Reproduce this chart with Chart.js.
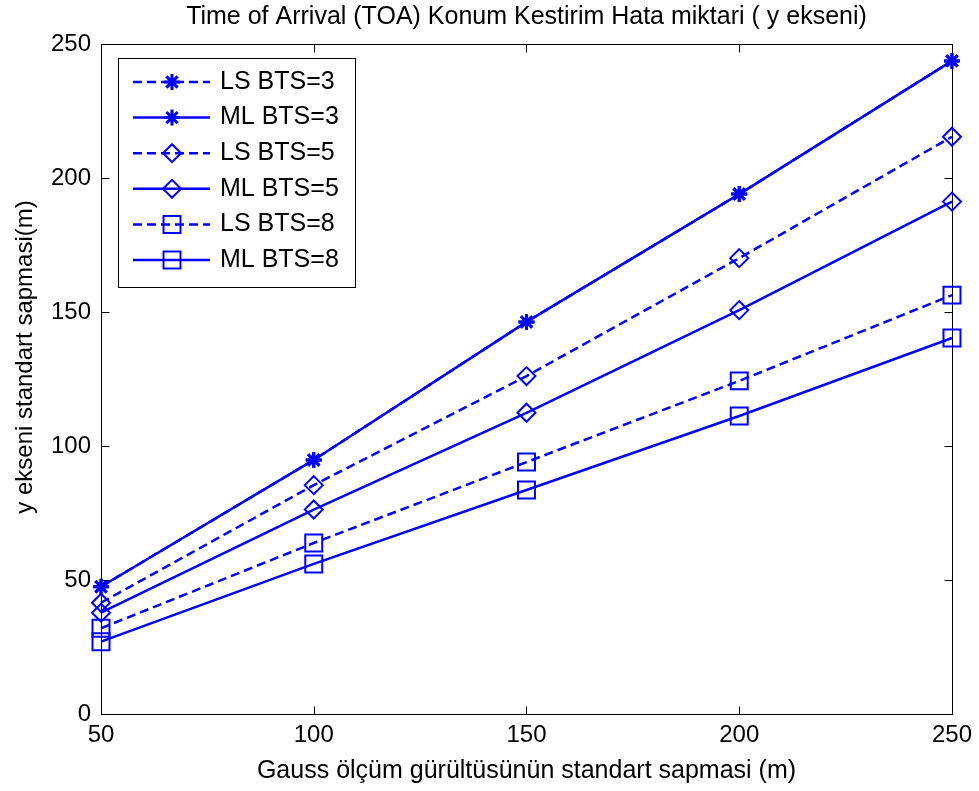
<!DOCTYPE html>
<html><head><meta charset="utf-8">
<script src="https://cdn.jsdelivr.net/npm/chart.js@4"></script>
<style>html,body{margin:0;padding:0;background:#fff;overflow:hidden}#wrap{width:979px;height:791px}</style>
</head><body><div id="wrap"><canvas id="c" width="979" height="791"></canvas></div>
<script>
const chartTitle = 'Time of Arrival (TOA) Konum Kestirim Hata miktari ( y ekseni)';
const xAxisLabel = 'Gauss ölçüm gürültüsünün standart sapmasi (m)';
const yAxisLabel = 'y ekseni standart sapmasi(m)';
const noiseStd = [50, 100, 150, 200, 250];
const xTicks = [50, 100, 150, 200, 250];
const yTicks = [0, 50, 100, 150, 200, 250];
const seriesNames = ['LS BTS=3', 'ML BTS=3', 'LS BTS=5', 'ML BTS=5', 'LS BTS=8', 'ML BTS=8'];
const lsBts3 = [47.5, 94.8, 146.3, 194.0, 243.7];
const mlBts3 = [47.5, 94.8, 146.3, 194.0, 243.7];
const lsBts5 = [41.5, 85.4, 126.1, 170.1, 215.4];
const mlBts5 = [37.8, 76.3, 112.4, 150.7, 191.2];
const lsBts8 = [32.0, 63.8, 94.0, 124.3, 156.3];
const mlBts8 = [27.0, 56.0, 83.6, 111.2, 140.3];

const FONT = "'Liberation Sans', Arial, Helvetica, sans-serif";
const BLUE = '#0000ff';
const seriesValues = [lsBts3, mlBts3, lsBts5, mlBts5, lsBts8, mlBts8];
const markerStyles = ['star', 'star', 'rectRot', 'rectRot', 'rect', 'rect'];
const markerRadius = {star: 8, rectRot: 9, rect: 12};
const markerWidth = {star: 3, rectRot: 2, rect: 2};
const dashed = [true, false, true, false, true, false];
const DASH = [9, 5];

Chart.defaults.font.family = FONT;
Chart.defaults.color = '#000';

const datasets = seriesNames.map((name, i) => ({
  label: name,
  data: noiseStd.map((x, j) => ({x: x, y: seriesValues[i][j]})),
  borderColor: BLUE,
  backgroundColor: 'rgba(0,0,0,0)',
  borderWidth: 2.5,
  borderDash: dashed[i] ? DASH : [],
  pointStyle: markerStyles[i],
  pointRadius: markerRadius[markerStyles[i]],
  pointHoverRadius: markerRadius[markerStyles[i]],
  pointBorderColor: BLUE,
  pointBackgroundColor: 'rgba(0,0,0,0)',
  pointBorderWidth: markerWidth[markerStyles[i]],
  tension: 0,
  clip: false
}));

function drawMarker(ctx, style, r, x, y) {
  if (Chart.helpers && Chart.helpers.drawPoint) {
    Chart.helpers.drawPoint(ctx, {pointStyle: style, radius: r, borderWidth: markerWidth[style], rotation: 0}, x, y);
    return;
  }
  ctx.beginPath();
  if (style === 'rect') { const s = r * Math.SQRT1_2; ctx.rect(x - s, y - s, 2 * s, 2 * s); }
  else if (style === 'rectRot') { ctx.moveTo(x - r, y); ctx.lineTo(x, y - r); ctx.lineTo(x + r, y); ctx.lineTo(x, y + r); ctx.closePath(); }
  else { for (let k = 0; k < 4; k++) { const a = k * Math.PI / 4; ctx.moveTo(x - r * Math.cos(a), y - r * Math.sin(a)); ctx.lineTo(x + r * Math.cos(a), y + r * Math.sin(a)); } }
  ctx.stroke();
}

const framePlugin = {
  id: 'matlabFrame',
  beforeDatasetsDraw(chart) {
    const {ctx, chartArea: a, scales} = chart;
    const x = scales.x, y = scales.y;
    ctx.save();
    ctx.strokeStyle = '#000';
    ctx.lineWidth = 1;
    const L = Math.round(a.left) + 0.5, R = Math.round(a.right) + 0.5;
    const T = Math.round(a.top) + 0.5, B = Math.round(a.bottom) + 0.5;
    ctx.strokeRect(L, T, R - L, B - T);
    const tl = 8;
    ctx.beginPath();
    xTicks.forEach(v => {
      const px = Math.round(x.getPixelForValue(v)) + 0.5;
      ctx.moveTo(px, B); ctx.lineTo(px, B - tl);
      ctx.moveTo(px, T); ctx.lineTo(px, T + tl);
    });
    yTicks.forEach(v => {
      const py = Math.round(y.getPixelForValue(v)) + 0.5;
      ctx.moveTo(L, py); ctx.lineTo(L + tl, py);
      ctx.moveTo(R, py); ctx.lineTo(R - tl, py);
    });
    ctx.stroke();
    ctx.fillStyle = '#000';
    ctx.font = '24px ' + FONT;
    ctx.textAlign = 'center';
    ctx.textBaseline = 'middle';
    ctx.translate(25, (a.top + a.bottom) / 2 - 22);
    ctx.rotate(-Math.PI / 2);
    ctx.fillText(yAxisLabel, 0, 0);
    ctx.restore();
  },
  afterDraw(chart) {
    const ctx = chart.ctx;
    ctx.save();
    const bx = 118.5, by = 58.5, bw = 237, bh = 229;
    ctx.fillStyle = '#fff';
    ctx.fillRect(bx, by, bw, bh);
    ctx.strokeStyle = '#000';
    ctx.lineWidth = 1;
    ctx.strokeRect(bx, by, bw, bh);
    ctx.font = '25px ' + FONT;
    ctx.textAlign = 'left';
    ctx.textBaseline = 'middle';
    seriesNames.forEach((name, i) => {
      const yy = 82 + i * 35.6;
      ctx.strokeStyle = BLUE;
      ctx.lineWidth = 2.5;
      ctx.setLineDash(dashed[i] ? DASH : []);
      ctx.beginPath();
      ctx.moveTo(133, yy); ctx.lineTo(210, yy);
      ctx.stroke();
      ctx.setLineDash([]);
      ctx.lineWidth = markerWidth[markerStyles[i]];
      ctx.fillStyle = 'rgba(0,0,0,0)';
      drawMarker(ctx, markerStyles[i], markerRadius[markerStyles[i]], 172, yy);
      ctx.fillStyle = '#000';
      ctx.fillText(name, 220, yy);
    });
    ctx.restore();
  }
};

new Chart(document.getElementById('c'), {
  type: 'line',
  data: {datasets: datasets},
  options: {
    responsive: false,
    animation: false,
    devicePixelRatio: 1,
    layout: {padding: {left: 0, right: 27, top: 0, bottom: 0}},
    plugins: {
      legend: {display: false},
      tooltip: {enabled: false},
      title: {
        display: true,
        text: chartTitle,
        fullSize: false,
        color: '#000',
        font: {size: 25, weight: 'normal', family: FONT},
        padding: {top: 2, bottom: 12}
      }
    },
    scales: {
      x: {
        type: 'linear',
        min: 50, max: 250,
        afterBuildTicks(scale) { scale.ticks = xTicks.map(v => ({value: v})); },
        grid: {display: false, drawTicks: false},
        border: {display: false},
        ticks: {font: {size: 24}, color: '#000', padding: 7, maxRotation: 0, autoSkip: false},
        title: {display: true, text: xAxisLabel, color: '#000', font: {size: 25}, padding: {top: 0, bottom: 5}},
        afterFit(scale) { scale.height = 77; }
      },
      y: {
        type: 'linear',
        min: 0, max: 250,
        afterBuildTicks(scale) { scale.ticks = yTicks.map(v => ({value: v})); },
        grid: {display: false, drawTicks: false},
        border: {display: false},
        ticks: {font: {size: 24}, color: '#000', padding: 10, autoSkip: false},
        afterFit(scale) { scale.width = 101; }
      }
    }
  },
  plugins: [framePlugin]
});
</script>
</body></html>
